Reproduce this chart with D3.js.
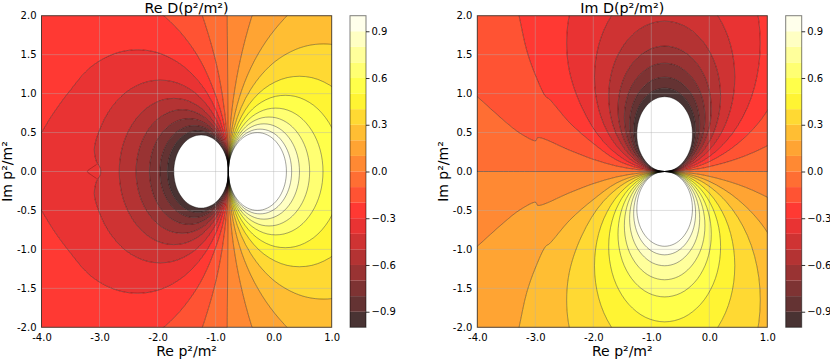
<!DOCTYPE html>
<html>
<head>
<meta charset="utf-8">
<script src="https://cdn.jsdelivr.net/npm/d3@7"></script>
<style>
  html, body { margin: 0; padding: 0; background: #fff; }
  svg { display: block; }
  text { font-family: "DejaVu Sans", sans-serif; fill: #000; }
</style>
</head>
<body>
<div id="chart"></div>
<script>
// tick labels and contour levels
const xTicks = [-4, -3, -2, -1, 0, 1];
const yTicks = [-2, -1.5, -1, -0.5, 0, 0.5, 1, 1.5, 2];
const barTicks = [-0.9, -0.6, -0.3, 0, 0.3, 0.6, 0.9];
const levels = [-1, -0.9, -0.8, -0.7, -0.6, -0.5, -0.4, -0.3, -0.2, -0.1, 0, 0.1, 0.2, 0.3, 0.4, 0.5, 0.6, 0.7, 0.8, 0.9, 1];
const bandColors = ["#1b0000", "#3d0000", "#5e0000", "#800000", "#a10000", "#c30000", "#e40000", "#ff0700", "#ff2800", "#ff4a00",
  "#ff6b00", "#ff8d00", "#ffae00", "#ffd000", "#fff100", "#ffff1d", "#ffff4f", "#ffff82", "#ffffb4", "#ffffe6"];

const pole = [-0.78, 0];

// Re D: upper half of each level curve, from the pole outwards (lower half is its mirror image)
const reN10 = [[-0.808,0.161],[-0.89,0.302],[-1.015,0.407],[-1.168,0.462],[-1.332,0.462],[-1.485,0.407],[-1.61,0.302],[-1.692,0.161],[-1.72,0]];
const reN09 = [[-0.812,0.18],[-0.903,0.337],[-1.043,0.455],[-1.214,0.517],[-1.396,0.517],[-1.568,0.455],[-1.707,0.337],[-1.799,0.18],[-1.83,0]];
const reN08 = [[-0.815,0.202],[-0.918,0.379],[-1.075,0.511],[-1.267,0.581],[-1.473,0.581],[-1.665,0.511],[-1.822,0.379],[-1.925,0.202],[-1.96,0]];
const reN07 = [[-0.821,0.233],[-0.939,0.437],[-1.12,0.589],[-1.342,0.669],[-1.578,0.669],[-1.8,0.589],[-1.981,0.437],[-2.099,0.233],[-2.14,0]];
const reN06 = [[-0.828,0.272],[-0.966,0.51],[-1.178,0.688],[-1.437,0.782],[-1.713,0.782],[-1.973,0.688],[-2.184,0.51],[-2.322,0.272],[-2.37,0]];
const reN05 = [[-0.836,0.321],[-1.0,0.603],[-1.25,0.814],[-1.556,0.925],[-1.884,0.925],[-2.19,0.814],[-2.44,0.603],[-2.604,0.321],[-2.66,0]];
const reN04 = [[-0.851,0.402],[-1.055,0.754],[-1.368,1.018],[-1.751,1.156],[-2.159,1.156],[-2.543,1.018],[-2.855,0.754],[-3.05,0.43],[-3.09,0.28],[-3.05,0.12],[-2.99,0.05],[-2.98,0]];
const reN03 = [[-0.874,0.535],[-1.146,1.005],[-1.563,1.355],[-2.073,1.54],[-2.617,1.54],[-3.128,1.355],[-3.544,1.005],[-3.82,0.72],[-4,0.5],[-4.2,0.25],[-4.25,0]];
const reN02 = [[-0.816,0.408],[-0.922,0.804],[-1.33,1.509],[-1.955,2.035],[-2.72,2.31],[-4.3,2.31],[-4.3,0]];
const reN01 = [[-0.806,0.49],[-0.883,0.977],[-1.01,1.452],[-1.256,2.06],[-1.494,2.49],[-4.3,2.5],[-4.3,0]];
const reZero = [[-0.785,0.5],[-0.79,1],[-0.795,1.5],[-0.8,2],[-0.8,2.6],[-4.3,2.6],[-4.3,0]];
const reP01 = [[-0.752,0.533],[-0.669,1.06],[-0.53,1.576],[-0.339,2.075],[-0.097,2.55],[2.3,2.55],[2.3,0]];
const reP02 = [[-0.742,0.431],[-0.631,0.848],[-0.448,1.24],[-0.2,1.592],[0.108,1.9],[0.46,2.148],[1.27,2.44],[2.3,2.44],[2.3,0]];
const reP03 = [[-0.682,0.561],[-0.396,1.053],[0.04,1.42],[0.575,1.614],[1.145,1.614],[1.68,1.42],[2.116,1.053],[2.2,0.5],[2.2,0]];
const reP04 = [[-0.706,0.419],[-0.493,0.786],[-0.167,1.061],[0.232,1.205],[0.658,1.205],[1.058,1.061],[1.383,0.786],[1.597,0.419],[1.67,0]];
const reP05 = [[-0.721,0.335],[-0.551,0.629],[-0.29,0.849],[0.029,0.964],[0.371,0.964],[0.69,0.849],[0.951,0.629],[1.121,0.335],[1.18,0]];
const reP06 = [[-0.731,0.279],[-0.589,0.523],[-0.372,0.706],[-0.107,0.802],[0.177,0.802],[0.443,0.706],[0.659,0.523],[0.801,0.279],[0.85,0]];
const reP07 = [[-0.738,0.239],[-0.616,0.449],[-0.43,0.606],[-0.202,0.689],[0.042,0.689],[0.27,0.606],[0.456,0.449],[0.578,0.239],[0.62,0]];
const reP08 = [[-0.743,0.209],[-0.637,0.393],[-0.474,0.53],[-0.274,0.603],[-0.061,0.603],[0.139,0.53],[0.302,0.393],[0.408,0.209],[0.445,0]];
const reP09 = [[-0.747,0.186],[-0.652,0.35],[-0.507,0.472],[-0.33,0.536],[-0.14,0.536],[0.038,0.472],[0.182,0.35],[0.277,0.186],[0.31,0]];
const reP10 = [[-0.75,0.171],[-0.663,0.321],[-0.53,0.433],[-0.367,0.492],[-0.193,0.492],[-0.03,0.433],[0.103,0.321],[0.19,0.171],[0.22,0]];
// the little spur on the -0.4 curve near Re = -3
const reSpur = [[-3.05,0.09],[-3.13,0.05],[-3.21,0],[-3.13,-0.05],[-3.05,-0.09]];

const imN10 = [[-0.934,0.029],[-1.078,0.112],[-1.186,0.24],[-1.242,0.396],[-1.242,0.564],[-1.186,0.72],[-1.078,0.848],[-0.934,0.931],[-0.77,0.96],[-0.606,0.931],[-0.462,0.848],[-0.354,0.72],[-0.298,0.564],[-0.298,0.396],[-0.354,0.24],[-0.462,0.112],[-0.606,0.029]];
const imN09 = [[-0.953,0.032],[-1.113,0.125],[-1.233,0.268],[-1.296,0.442],[-1.296,0.628],[-1.233,0.803],[-1.113,0.945],[-0.953,1.038],[-0.77,1.07],[-0.587,1.038],[-0.427,0.945],[-0.307,0.803],[-0.244,0.628],[-0.244,0.442],[-0.307,0.268],[-0.427,0.125],[-0.587,0.032]];
const imN08 = [[-0.977,0.036],[-1.158,0.142],[-1.294,0.303],[-1.365,0.5],[-1.365,0.71],[-1.294,0.908],[-1.158,1.068],[-0.977,1.174],[-0.77,1.21],[-0.563,1.174],[-0.382,1.068],[-0.246,0.908],[-0.175,0.71],[-0.175,0.5],[-0.246,0.303],[-0.382,0.142],[-0.563,0.036]];
const imN07 = [[-1.008,0.042],[-1.216,0.163],[-1.372,0.348],[-1.454,0.574],[-1.454,0.816],[-1.372,1.043],[-1.216,1.227],[-1.008,1.348],[-0.77,1.39],[-0.532,1.348],[-0.324,1.227],[-0.168,1.043],[-0.086,0.816],[-0.086,0.574],[-0.168,0.348],[-0.324,0.163],[-0.532,0.042]];
const imN06 = [[-1.045,0.048],[-1.287,0.188],[-1.467,0.403],[-1.562,0.665],[-1.562,0.945],[-1.467,1.208],[-1.287,1.422],[-1.045,1.562],[-0.77,1.61],[-0.495,1.562],[-0.253,1.422],[-0.073,1.208],[0.022,0.945],[0.022,0.665],[-0.073,0.403],[-0.253,0.188],[-0.495,0.048]];
const imN05 = [[-1.1,0.058],[-1.39,0.226],[-1.606,0.483],[-1.72,0.797],[-1.72,1.133],[-1.606,1.448],[-1.39,1.704],[-1.1,1.872],[-0.77,1.93],[-0.44,1.872],[-0.15,1.704],[0.066,1.448],[0.18,1.133],[0.18,0.797],[0.066,0.483],[-0.15,0.226],[-0.44,0.058]];
const imN04 = [[-1.184,0.073],[-1.547,0.283],[-1.818,0.605],[-1.961,0.999],[-1.961,1.421],[-1.818,1.815],[-1.547,2.137],[-1.184,2.347],[-0.77,2.42],[-0.356,2.347],[0.007,2.137],[0.278,1.815],[0.421,1.421],[0.421,0.999],[0.278,0.605],[0.007,0.283],[-0.356,0.073]];
const imN03 = [[-1.334,0.099],[-1.829,0.386],[-2.199,0.825],[-2.43,1.363],[-2.43,1.937],[-2.2,2.475],[-1.829,2.914],[-1.334,3.2],[-0.77,3.3],[-0.206,3.2],[0.289,2.914],[0.659,2.475],[0.854,1.937],[0.854,1.363],[0.659,0.825],[0.289,0.386],[-0.206,0.099]];
const imN02 = [[-1.2,0.04],[-1.6,0.148],[-2,0.36],[-2.4,0.62],[-2.76,0.93],[-2.82,0.96],[-3,1.24],[-3.15,1.56],[-3.28,2],[-3.4,2.4],[-3.4,2.7],[1.8,2.7],[1.7,2.4],[1.5,1.62],[1,0.78],[0.5,0.364],[0,0.127],[-0.4,0.029]];
const imN01 = [[-1.2,0.02],[-1.6,0.07],[-2,0.156],[-2.4,0.27],[-2.96,0.435],[-2.99,0.395],[-3.26,0.49],[-3.55,0.66],[-4,0.96],[-4.3,1.15],[-4.3,2.5],[1.6,2.5],[1.6,0.6],[1,0.33],[0.5,0.168],[0,0.062],[-0.3,0.023]];
const imZero = [[-4.3,0],[-3,0],[-0.77,0],[0.5,0],[1.3,0],[1.6,0],[1.6,2.3],[-4.6,2.3],[-4.6,0]];

const width = 830, height = 359;
const plotTop = 15.7, plotBottom = 327.3;

const svg = d3.select("#chart").append("svg")
  .attr("width", width)
  .attr("height", height);

// closes a half curve through the pole with its mirror image
function mirrored(half) {
  let lower = half.slice(0, -1).reverse().map(d => [d[0], -d[1]]);
  return [pole].concat(half, lower);
}

function flipY(curve) {
  return curve.map(d => [d[0], -d[1]]);
}

const reCurves = [reN10, reN09, reN08, reN07, reN06, reN05, reN04, reN03, reN02, reN01, reZero,
  reP01, reP02, reP03, reP04, reP05, reP06, reP07, reP08, reP09, reP10].map(mirrored);

const imUpper = [imN10, imN09, imN08, imN07, imN06, imN05, imN04, imN03, imN02, imN01].map(c => [[-0.77, 0]].concat(c));
const imCurves = imUpper.concat([imZero], imUpper.slice().reverse().map(flipY));

function drawPanel(left, right, titleText, id, curves, extraLines, barLeft) {
  let x = d3.scaleLinear().domain([-4, 1]).range([left, right]);
  let y = d3.scaleLinear().domain([-2, 2]).range([plotBottom, plotTop]);

  let smooth = d3.line()
    .x(d => x(d[0]))
    .y(d => y(d[1]))
    .curve(d3.curveCatmullRomClosed);

  svg.append("clipPath").attr("id", id)
    .append("rect")
    .attr("x", left).attr("y", plotTop)
    .attr("width", right - left).attr("height", plotBottom - plotTop);

  let plot = svg.append("g").attr("clip-path", "url(#" + id + ")");
  let box = "M" + left + "," + plotTop + "H" + right + "V" + plotBottom + "H" + left + "Z";

  // one band between each pair of neighbouring levels, the band above 0 also needs the plot box as its outer edge
  plot.selectAll("path.band").data(bandColors).enter().append("path")
    .attr("d", (d, i) => {
      let p = smooth(curves[i]) + smooth(curves[i + 1]);
      return levels[i] === 0 ? box + p : p;
    })
    .attr("fill", d => d)
    .attr("fill-opacity", 0.8)
    .attr("fill-rule", "evenodd");

  // grid goes over the fills, pale, and under the level lines
  let grid = plot.append("g");
  grid.selectAll("line.gx").data(xTicks).enter().append("line")
    .attr("x1", d => x(d)).attr("x2", d => x(d))
    .attr("y1", plotTop).attr("y2", plotBottom)
    .attr("stroke", "#b0b0b0").attr("stroke-opacity", 0.45).attr("stroke-width", 0.9);
  grid.selectAll("line.gy").data(yTicks).enter().append("line")
    .attr("x1", left).attr("x2", right)
    .attr("y1", d => y(d)).attr("y2", d => y(d))
    .attr("stroke", "#b0b0b0").attr("stroke-opacity", 0.45).attr("stroke-width", 0.9);

  plot.selectAll("path.level").data(curves).enter().append("path")
    .attr("d", smooth)
    .attr("fill", "none")
    .attr("stroke", "#000")
    .attr("stroke-opacity", 0.6)
    .attr("stroke-width", 0.6);

  extraLines.forEach(line => {
    plot.append("path")
      .attr("d", d3.line().x(d => x(d[0])).y(d => y(d[1])).curve(d3.curveCatmullRom)(line))
      .attr("fill", "none")
      .attr("stroke", "#000")
      .attr("stroke-opacity", 0.4)
      .attr("stroke-width", 0.6);
  });

  // axes
  let xAxis = svg.append("g")
    .attr("transform", "translate(0," + plotBottom + ")")
    .call(d3.axisBottom(x).tickValues(xTicks).tickSize(0).tickPadding(7).tickFormat(d => d.toFixed(1)));
  let yAxis = svg.append("g")
    .attr("transform", "translate(" + left + ",0)")
    .call(d3.axisLeft(y).tickValues(yTicks).tickSize(0).tickPadding(5).tickFormat(d => d.toFixed(1)));
  xAxis.select(".domain").remove();
  yAxis.select(".domain").remove();
  svg.selectAll("g.tick text").attr("font-size", 10).style("font-family", '"DejaVu Sans", sans-serif');

  svg.append("rect")
    .attr("x", left).attr("y", plotTop)
    .attr("width", right - left).attr("height", plotBottom - plotTop)
    .attr("fill", "none")
    .attr("stroke", "#000")
    .attr("stroke-opacity", 0.65)
    .attr("stroke-width", 1);

  svg.append("text").text(titleText)
    .attr("x", (left + right) / 2).attr("y", 13.4)
    .attr("text-anchor", "middle").attr("font-size", 14.3);
  svg.append("text").text("Re p²/m²")
    .attr("x", (left + right) / 2).attr("y", 356)
    .attr("text-anchor", "middle").attr("font-size", 14);
  svg.append("text").text("Im p²/m²")
    .attr("transform", "translate(" + (left - 29.5) + "," + ((plotTop + plotBottom) / 2) + ") rotate(-90)")
    .attr("text-anchor", "middle").attr("font-size", 14);

  // colorbar
  let barWidth = 16;
  let c = d3.scaleLinear().domain([-1, 1]).range([plotBottom, plotTop]);
  svg.append("g").selectAll("rect").data(bandColors).enter().append("rect")
    .attr("x", barLeft)
    .attr("y", (d, i) => c(levels[i + 1]))
    .attr("width", barWidth)
    .attr("height", (d, i) => c(levels[i]) - c(levels[i + 1]))
    .attr("fill", d => d)
    .attr("fill-opacity", 0.8);
  let barAxis = svg.append("g")
    .attr("transform", "translate(" + (barLeft + barWidth) + ",0)")
    .call(d3.axisRight(c).tickValues(barTicks).tickSize(3.5).tickPadding(2).tickFormat(d => d.toFixed(1).replace("-", "\u2212")));
  barAxis.select(".domain").remove();
  barAxis.selectAll("text").attr("font-size", 10).style("font-family", '"DejaVu Sans", sans-serif');
  barAxis.selectAll("line").attr("stroke", "#000").attr("stroke-width", 0.8);
  svg.append("rect")
    .attr("x", barLeft).attr("y", plotTop)
    .attr("width", barWidth).attr("height", plotBottom - plotTop)
    .attr("fill", "none")
    .attr("stroke", "#000")
    .attr("stroke-opacity", 0.5)
    .attr("stroke-width", 1);
}

drawPanel(41.5, 331.7, "Re D(p²/m²)", "clipRe", reCurves, [reSpur], 350);
drawPanel(477.3, 767.3, "Im D(p²/m²)", "clipIm", imCurves, [], 785.7);
</script>
</body>
</html>
